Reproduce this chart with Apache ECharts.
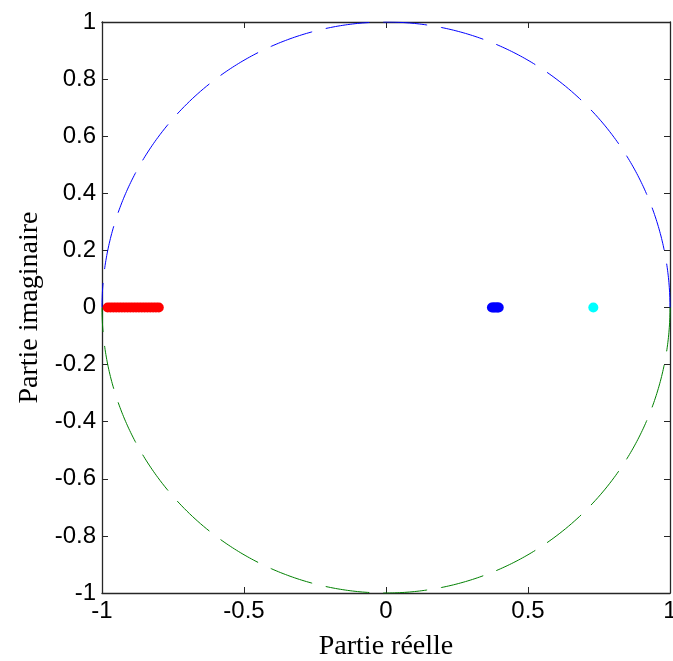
<!DOCTYPE html>
<html><head><meta charset="utf-8">
<script src="https://cdn.jsdelivr.net/npm/echarts@6/dist/echarts.min.js"></script>
<style>html,body{margin:0;padding:0;background:#fff}#c{width:673px;height:661px}</style>
</head><body><div id="c"></div>
<script>
// ---- data ----
const xTicks = [-1, -0.5, 0, 0.5, 1];
const yTicks = [-1, -0.8, -0.6, -0.4, -0.2, 0, 0.2, 0.4, 0.6, 0.8, 1];
const unitRadius = 1;
const redX = [-0.98, -0.97, -0.96, -0.95, -0.94, -0.93, -0.92, -0.91, -0.90, -0.89, -0.88, -0.87, -0.86, -0.85, -0.84, -0.83, -0.82, -0.81, -0.80];
const redY = [0, 0, 0, 0, 0, 0, 0, 0, 0, 0, 0, 0, 0, 0, 0, 0, 0, 0, 0];
const blueX = [0.373, 0.378, 0.383, 0.388, 0.393, 0.397];
const blueY = [0, 0, 0, 0, 0, 0];
const cyanX = [0.73];
const cyanY = [0];

// unit circle outline (geometry, upper and lower halves)
function halfCircle(sign) {
  const pts = [];
  const n = 720;
  for (let i = 0; i <= n; i++) {
    const a = Math.PI * i / n;
    pts.push([unitRadius * Math.cos(a), sign * unitRadius * Math.sin(a)]);
  }
  return pts;
}
const zip = (xs, ys) => xs.map((x, i) => [x, ys[i]]);

const chart = echarts.init(document.getElementById('c'));
const tickFont = { fontFamily: 'Liberation Sans, Arial, sans-serif', fontSize: 24, color: '#000' };
const axisCommon = {
  type: 'value', min: -1, max: 1,
  axisLine: { show: true, onZero: false, lineStyle: { color: '#262626', width: 1.3 } },
  axisTick: { show: true, inside: true, length: 6, lineStyle: { color: '#262626' } },
  splitLine: { show: false }
};
chart.setOption({
  animation: false,
  grid: { left: 102, top: 22, right: 3, bottom: 68, containLabel: false, outerBoundsMode: 'none' },
  xAxis: [
    Object.assign({}, axisCommon, {
      position: 'bottom', interval: 0.5,
      axisLabel: Object.assign({ margin: 6, formatter: v => String(v) }, tickFont),
      name: 'Partie réelle', nameLocation: 'middle', nameGap: 40,
      nameTextStyle: { fontFamily: 'Liberation Serif, Times New Roman, serif', fontSize: 28, color: '#000' }
    }),
    Object.assign({}, axisCommon, { position: 'top', interval: 0.5, axisLabel: { show: false } })
  ],
  yAxis: [
    Object.assign({}, axisCommon, {
      position: 'left', interval: 0.2,
      axisLabel: Object.assign({ margin: 6, formatter: v => String(Math.round(v * 10) / 10) }, tickFont),
      name: 'Partie imaginaire', nameLocation: 'middle', nameGap: 58,
      nameTextStyle: { fontFamily: 'Liberation Serif, Times New Roman, serif', fontSize: 28, color: '#000' }
    }),
    Object.assign({}, axisCommon, { position: 'right', interval: 0.2, axisLabel: { show: false } })
  ],
  series: [
    { type: 'line', data: halfCircle(1), showSymbol: false, symbol: 'none',
      lineStyle: { color: '#0000ff', width: 1, type: [44, 14] }, silent: true, z: 1 },
    { type: 'line', data: halfCircle(-1), showSymbol: false, symbol: 'none',
      lineStyle: { color: '#008000', width: 1, type: [44, 14] }, silent: true, z: 1 },
    { type: 'scatter', data: zip(redX, redY), symbol: 'circle', symbolSize: 10,
      itemStyle: { color: '#ff0000', opacity: 1 }, z: 3 },
    { type: 'scatter', data: zip(blueX, blueY), symbol: 'circle', symbolSize: 10,
      itemStyle: { color: '#0000ff', opacity: 1 }, z: 3 },
    { type: 'scatter', data: zip(cyanX, cyanY), symbol: 'circle', symbolSize: 10,
      itemStyle: { color: '#00ffff', opacity: 1 }, z: 3 }
  ]
});
</script></body></html>
